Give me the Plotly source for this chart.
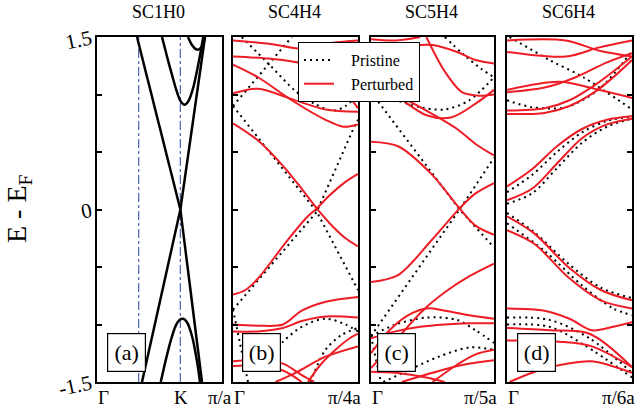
import plotly.graph_objects as go

W, H = 640, 413
FONT = "Liberation Serif"
RED = "#ee1c25"

# ---------------- data ----------------
panel_titles = ["SC1H0", "SC4H4", "SC5H4", "SC6H4"]
panel_tags = ["(a)", "(b)", "(c)", "(d)"]
legend_names = ["Pristine", "Perturbed"]
y_tick_vals = [-1.5, -1.0, -0.5, 0.0, 0.5, 1.0, 1.5]
y_tick_text = ["-1.5", "", "", "0", "", "", "1.5"]
x_labels = [[("Γ", 0.0), ("K", 2 / 3), ("π/a", 1.0)],
            [("Γ", 0.0), ("π/4a", 1.0)],
            [("Γ", 0.0), ("π/5a", 1.0)],
            [("Γ", 0.0), ("π/6a", 1.0)]]

# panel (a): pristine graphene bands (black)
a_lin_x = [[0.32, 0.667], [0.667, 0.864], [0.36, 0.667], [0.667, 0.84]]
a_lin_e = [[1.5, 0.0], [0.0, 1.5], [-1.5, 0.0], [0.0, -1.5]]
a_x = [[0.52, 0.56, 0.60, 0.64, 0.67, 0.70, 0.73, 0.77, 0.81, 0.85],
       [0.728, 0.76, 0.79, 0.81, 0.84, 0.864],
       [0.51, 0.55, 0.59, 0.63, 0.66, 0.69, 0.72, 0.76, 0.80, 0.824]]
a_e = [[1.5, 1.33, 1.17, 1.02, 0.94, 0.91, 0.94, 1.06, 1.26, 1.5],
       [1.5, 1.43, 1.395, 1.39, 1.42, 1.5],
       [-1.5, -1.31, -1.14, -1.01, -0.96, -0.95, -0.98, -1.1, -1.32, -1.5]]
a_kpoints = [1 / 3, 2 / 3]

# panel (b)
b_red_x = [[0, 0.2, 0.4, 0.55, 0.67, 0.8, 0.9, 1.0],
           [0, 0.1, 0.2, 0.42, 0.58, 0.67, 0.78, 0.9, 1.0],
           [0, 0.2, 0.47, 0.74, 0.88, 1.0],
           [0, 0.2, 0.47, 0.74, 1.0],
           [0, 0.3, 0.55, 0.8, 1.0],
           [0, 0.3, 0.55, 0.75, 0.9, 1.0],
           [0, 0.2, 0.4, 0.55, 0.75, 1.0],
           [0, 0.2, 0.4, 0.55, 0.75, 1.0],
           [0, 0.2, 0.4, 0.55, 0.65],
           [0, 0.2, 0.4, 0.55],
           [0.34, 0.5, 0.74, 1.0],
           [0.6, 0.7, 0.82, 0.92, 1.0]]
b_red_e = [[0.75, 0.60, 0.38, 0.18, 0.01, -0.15, -0.25, -0.32],
           [-0.74, -0.70, -0.60, -0.29, -0.08, 0.01, 0.13, 0.24, 0.31],
           [1.26, 1.15, 0.95, 0.78, 0.72, 0.74],
           [1.01, 1.05, 0.96, 0.87, 0.85],
           [1.47, 1.44, 1.40, 1.45, 1.47],
           [1.33, 1.31, 1.27, 1.18, 1.02, 0.88],
           [-1.0, -1.01, -1.0, -0.88, -0.80, -0.76],
           [-1.06, -1.06, -1.03, -0.97, -0.93, -0.94],
           [-1.32, -1.31, -1.34, -1.44, -1.5],
           [-1.36, -1.36, -1.40, -1.5],
           [-1.5, -1.42, -1.28, -1.19],
           [-1.5, -1.35, -1.22, -1.13, -1.08]]
b_dotlin_x = [[0, 0.67, 1.0], [0, 0.47], [0, 0.67, 0.97, 1.0], [0, 0.12]]
b_dotlin_e = [[0.90, -0.02, -0.70], [0.90, 1.5], [-0.87, -0.02, 0.72, 0.78], [-0.87, -1.5]]
b_dot_x = [[0.07, 0.3, 0.5, 0.65, 0.8, 0.9, 1.0],
           [0.3, 0.4, 0.55, 0.74, 0.9, 1.0],
           [0.62, 0.74, 0.87, 1.0]]
b_dot_e = [[1.5, 1.25, 1.03, 0.92, 0.86, 0.9, 1.0],
           [-1.28, -1.15, -1.02, -0.95, -1.0, -1.06],
           [-1.5, -1.22, -1.09, -1.03]]

# panel (c)
c_red_x = [[0, 0.22, 0.49, 0.72, 0.85, 1.0],
           [0, 0.22, 0.49, 0.72, 0.85, 1.0],
           [0, 0.2, 0.45, 0.7, 0.85, 1.0],
           [0, 0.2, 0.45, 0.65, 0.85, 1.0],
           [0.45, 0.6, 0.74, 0.87, 1.0],
           [0.3, 0.5, 0.7, 0.85, 1.0],
           [0, 0.2, 0.4],
           [0, 0.15, 0.3, 0.45, 0.6, 0.8, 1.0],
           [0, 0.15, 0.42, 0.6, 0.8, 1.0],
           [0, 0.2, 0.4, 0.6, 0.8, 1.0],
           [0, 0.2, 0.45, 0.6],
           [0.25, 0.5, 0.75, 1.0],
           [0.5, 0.7, 0.85, 1.0]]
c_red_e = [[0.59, 0.55, 0.31, 0.01, -0.14, -0.22],
           [-0.63, -0.57, -0.27, 0.01, 0.14, 0.23],
           [1.07, 1.0, 0.86, 0.70, 0.57, 0.47],
           [1.10, 0.99, 0.82, 0.80, 0.92, 1.04],
           [1.5, 1.2, 1.02, 0.99, 1.0],
           [1.42, 1.43, 1.37, 1.30, 1.27],
           [1.48, 1.47, 1.5],
           [-1.25, -1.05, -0.92, -0.86, -0.88, -0.92, -0.95],
           [-1.38, -1.2, -0.88, -0.72, -0.58, -0.47],
           [-1.12, -1.06, -1.02, -1.0, -0.99, -0.99],
           [-1.41, -1.42, -1.46, -1.5],
           [-1.5, -1.42, -1.35, -1.31],
           [-1.5, -1.35, -1.26, -1.22]]
c_dotlin_x = [[0, 0.72, 1.0], [0, 0.72, 1.0], [0, 0.08]]
c_dotlin_e = [[1.02, 0.0, -0.33], [-1.10, 0.0, 0.45], [-1.10, -1.5]]
c_dot_x = [[0, 0.15, 0.4, 0.6, 0.8, 1.0],
           [0.6, 0.75, 0.9, 1.0],
           [0, 0.2, 0.45, 0.7, 0.85, 1.0],
           [0.1, 0.3, 0.55, 0.8, 1.0]]
c_dot_e = [[1.02, 0.97, 0.89, 0.87, 0.95, 1.15],
           [1.5, 1.35, 1.22, 1.15],
           [-1.10, -1.0, -0.94, -0.96, -1.05, -1.16],
           [-1.5, -1.40, -1.28, -1.2, -1.22]]

# panel (d)
d_red_x = [[0, 0.2, 0.4, 0.6, 0.8, 1.0],
           [0, 0.2, 0.4, 0.6, 0.8, 1.0],
           [0, 0.3, 0.5, 0.7, 0.85, 1.0],
           [0, 0.3, 0.5, 0.7, 0.85, 1.0],
           [0, 0.42, 0.7, 1.0],
           [0, 0.3, 0.55, 0.8, 1.0],
           [0, 0.47, 0.74, 1.0],
           [0, 0.47, 0.74, 1.0],
           [0, 0.22, 0.49, 0.75, 1.0],
           [0, 0.22, 0.49, 0.75, 1.0],
           [0, 0.3, 0.5, 0.68, 0.85, 1.0],
           [0, 0.34, 0.66, 1.0],
           [0.02, 0.25, 0.49, 0.68, 1.0],
           [0, 0.42, 0.68, 1.0]]
d_red_e = [[0.20, 0.35, 0.55, 0.70, 0.78, 0.81],
           [0.08, 0.18, 0.40, 0.62, 0.74, 0.79],
           [0.86, 0.88, 0.95, 1.08, 1.2, 1.33],
           [0.83, 0.84, 0.90, 1.02, 1.15, 1.30],
           [1.04, 1.11, 1.05, 0.97],
           [1.02, 1.06, 1.15, 1.28, 1.36],
           [1.37, 1.33, 1.41, 1.47],
           [1.47, 1.47, 1.38, 1.33],
           [-0.06, -0.21, -0.50, -0.70, -0.79],
           [-0.18, -0.30, -0.59, -0.79, -0.86],
           [-0.86, -0.88, -0.95, -1.05, -1.02, -0.98],
           [-1.03, -1.05, -1.08, -1.37],
           [-1.5, -1.4, -1.34, -1.32, -1.42],
           [-1.14, -1.15, -1.19, -1.37]]
d_dot_x = [[0, 0.2, 0.4, 0.6, 0.8, 1.0],
           [0, 0.2, 0.4, 0.6, 0.8, 1.0],
           [0, 0.2, 0.47, 0.74, 1.0],
           [0.02, 0.34, 0.61, 1.0],
           [0, 0.22, 0.49, 0.75, 1.0],
           [0, 0.3, 0.6, 0.85, 1.0],
           [0, 0.34, 0.66, 1.0],
           [0, 0.34, 0.62, 1.0]]
d_dot_e = [[0.15, 0.30, 0.50, 0.67, 0.77, 0.81],
           [0.05, 0.14, 0.36, 0.58, 0.72, 0.79],
           [0.95, 0.89, 0.89, 1.05, 1.38],
           [1.5, 1.30, 1.15, 0.87],
           [-0.03, -0.20, -0.47, -0.68, -0.77],
           [-0.12, -0.36, -0.66, -0.86, -0.92],
           [-0.94, -0.96, -1.12, -1.42],
           [-1.0, -1.02, -1.18, -1.46]]

# ---------------- layout geometry (pixels) ----------------
panel_px = [(97, 222), (233, 358), (371, 494), (507, 632)]
tag_center_px = [126.5, 261.5, 396.5, 536.0]
top_px, bot_px = 37, 382


def fx(px):
    return px / W


def fy(py):
    return 1 - py / H


fig = go.Figure()

DOT = dict(color="black", width=2, dash="2px,4px")
REDL = dict(color=RED, width=2)
legend_done = {"p": False, "r": False}
LEG_LABEL = {"p": "&nbsp;&nbsp;&nbsp;" + legend_names[0],
             "r": "&nbsp;&nbsp;&nbsp;" + legend_names[1]}


def add(xs, es, ax, style, shape, kind):
    for x, e in zip(xs, es):
        show = False
        if kind in legend_done and not legend_done[kind]:
            show = True
            legend_done[kind] = True
        ln = dict(style)
        ln["shape"] = shape
        if shape == "spline":
            ln["smoothing"] = 0.9
        fig.add_trace(go.Scatter(x=x, y=e, mode="lines", line=ln,
                                 xaxis="x" + ax, yaxis="y" + ax,
                                 showlegend=show, name=LEG_LABEL.get(kind),
                                 legendgroup=kind, hoverinfo="skip"))


# panel a
for k in a_kpoints:
    fig.add_trace(go.Scatter(x=[k, k], y=[-1.5, 1.5], mode="lines",
                             line=dict(color="#4a64b4", width=1.2, dash="dashdot"),
                             xaxis="x", yaxis="y", showlegend=False, hoverinfo="skip"))
BLK = dict(color="black", width=2.5)
add(a_lin_x, a_lin_e, "", BLK, "linear", "a")
add(a_x, a_e, "", BLK, "spline", "a")

# panels b-d : pristine first (legend order), then perturbed
add(b_dotlin_x, b_dotlin_e, "2", DOT, "linear", "p")
add(b_dot_x, b_dot_e, "2", DOT, "spline", "p")
add(c_dotlin_x, c_dotlin_e, "3", DOT, "linear", "p")
add(c_dot_x, c_dot_e, "3", DOT, "spline", "p")
add(d_dot_x, d_dot_e, "4", DOT, "spline", "p")
add(b_red_x, b_red_e, "2", REDL, "spline", "r")
add(c_red_x, c_red_e, "3", REDL, "spline", "r")
add(d_red_x, d_red_e, "4", REDL, "spline", "r")

layout = dict(
    template="none",
    width=W, height=H, margin=dict(l=0, r=0, t=0, b=0, autoexpand=False),
    paper_bgcolor="white", plot_bgcolor="white",
    font=dict(family=FONT, color="black"),
    showlegend=True,
    legend=dict(x=fx(298), y=fy(42), xanchor="left", yanchor="top",
                bgcolor="white", bordercolor="black", borderwidth=1,
                font=dict(family=FONT, size=16), itemwidth=30,
                tracegroupgap=0),
)
annotations = []
for i, (l, r) in enumerate(panel_px):
    sfx = "" if i == 0 else str(i + 1)
    layout["xaxis" + sfx] = dict(domain=[fx(l), fx(r)], range=[0, 1],
                                 showgrid=False, zeroline=False,
                                 showticklabels=False, ticks="",
                                 automargin=False,
                                 showline=True, mirror=True, linewidth=2,
                                 linecolor="black", anchor="y" + sfx)
    yax = dict(domain=[fy(bot_px), fy(top_px)], range=[-1.5, 1.5],
               showgrid=False, zeroline=False, showline=True, mirror=True,
               automargin=False,
               linewidth=2, linecolor="black", anchor="x" + sfx,
               tickvals=y_tick_vals, ticks="inside", ticklen=5,
               tickwidth=1.5, tickcolor="black")
    if i == 0:
        yax.update(ticktext=y_tick_text, showticklabels=True,
                   tickfont=dict(family=FONT, size=21), tickangle=-12)
    else:
        yax.update(showticklabels=False)
    if i == 3:
        yax.update(side="right")
    layout["yaxis" + sfx] = yax

    cx = (l + r) / 2
    annotations.append(dict(text=panel_titles[i], x=fx(cx - 1), y=fy(12),
                            xref="paper", yref="paper", showarrow=False,
                            xanchor="center", yanchor="middle",
                            font=dict(family=FONT, size=18)))
    annotations.append(dict(text=panel_tags[i], x=fx(tag_center_px[i]), y=fy(352),
                            xref="paper", yref="paper", showarrow=False,
                            xanchor="center", yanchor="middle",
                            font=dict(family=FONT, size=22),
                            bgcolor="white", bordercolor="black",
                            borderwidth=1.2, borderpad=0, width=37, height=37))
    for txt, pos in x_labels[i]:
        px = l + pos * (r - l)
        if pos == 0.0:
            anchor, xpx = "left", l - 1
        elif pos == 1.0:
            anchor, xpx = "right", r + (12 if i == 0 else 5)
        else:
            anchor, xpx = "center", px + 1
        annotations.append(dict(text=txt, x=fx(xpx), y=fy(397), xref="paper",
                                yref="paper", xanchor=anchor, yanchor="middle",
                                showarrow=False,
                                font=dict(family=FONT, size=19)))

annotations.append(dict(text="E - E<sub>F</sub>", x=fx(19), y=fy(209),
                        xref="paper", yref="paper", showarrow=False,
                        xanchor="center", yanchor="middle",
                        textangle=-90, font=dict(family=FONT, size=28)))
layout["annotations"] = annotations
fig.update_layout(**layout)
fig.write_html("out.html")
